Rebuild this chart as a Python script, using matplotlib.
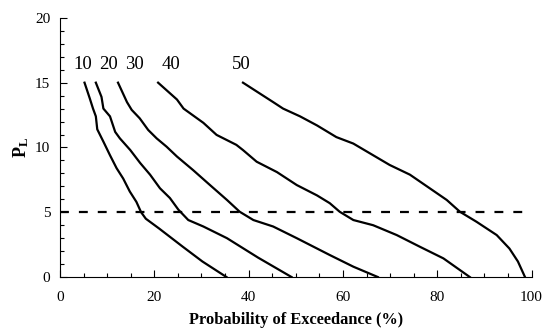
import matplotlib.pyplot as plt
from matplotlib.ticker import MultipleLocator

plt.rcParams['font.family'] = ['Liberation Serif', 'DejaVu Serif']
plt.rcParams['mathtext.fontset'] = 'custom'
plt.rcParams['mathtext.rm'] = 'Liberation Serif'
plt.rcParams['mathtext.bf'] = 'Liberation Serif:bold'

# P_L levels (y) shared layout per curve, x = probability of exceedance (%)
curve_labels = ['10', '20', '30', '40', '50']

x10 = [5.2, 6.3, 7.0, 7.6, 7.9, 9.2, 10.6, 12.0, 13.4, 14.8, 16.2, 17.2, 18.2, 21.0, 26.0, 30.2, 35.3]
y10 = [15.0, 13.8, 13.0, 12.4, 11.4, 10.45, 9.4, 8.4, 7.6, 6.6, 5.8, 5.0, 4.5, 3.75, 2.35, 1.2, 0.0]

x20 = [7.6, 8.8, 9.2, 10.6, 11.7, 12.7, 14.9, 17.0, 19.1, 21.2, 23.3, 25.1, 27.2, 30.4, 35.4, 42.0, 49.1]
y20 = [15.0, 13.9, 13.0, 12.4, 11.2, 10.7, 9.8, 8.8, 7.9, 6.85, 6.1, 5.2, 4.4, 3.9, 3.0, 1.5, 0.0]

x30 = [12.3, 14.2, 15.2, 16.9, 18.7, 20.5, 22.6, 24.8, 28.2, 31.8, 35.4, 38.1, 41.0, 45.2, 50.2, 57.2, 62.2, 67.4]
y30 = [15.0, 13.5, 12.9, 12.25, 11.35, 10.7, 10.06, 9.3, 8.26, 7.1, 5.95, 5.04, 4.4, 3.9, 3.0, 1.7, 0.8, 0.0]

x40 = [20.8, 24.8, 26.2, 30.4, 33.2, 37.4, 38.8, 41.7, 46.0, 50.2, 54.5, 57.2, 59.3, 62.2, 66.4, 71.4, 76.3, 81.3, 86.9]
y40 = [15.0, 13.7, 13.0, 11.9, 10.97, 10.2, 9.8, 8.9, 8.1, 7.1, 6.3, 5.7, 5.04, 4.4, 4.0, 3.24, 2.34, 1.44, 0.0]

x50 = [38.8, 45.2, 47.3, 50.9, 54.5, 58.6, 62.2, 65.7, 69.9, 74.2, 78.4, 82.0, 84.8, 88.3, 92.6, 95.3, 97.1, 98.6]
y50 = [15.0, 13.5, 13.0, 12.4, 11.7, 10.8, 10.3, 9.55, 8.65, 7.9, 6.85, 5.95, 5.04, 4.27, 3.24, 2.2, 1.2, 0.0]

label_x = [4.8, 10.2, 15.8, 23.6, 38.4]
label_y = 16.4
threshold = 5

fig = plt.figure(figsize=(5.43, 3.31), dpi=100)
ax = fig.add_axes([0.1105, 0.163, 0.8685, 0.783])

for xs, ys in [(x10, y10), (x20, y20), (x30, y30), (x40, y40), (x50, y50)]:
    ax.plot(xs, ys, color='black', lw=1.6)

ax.plot([0, 100], [threshold, threshold], color='black', lw=1.6, dashes=(4, 4.5))

for lab, lx in zip(curve_labels, label_x):
    ax.text(lx, label_y, lab, fontsize=13.5, ha='center', va='center')

ax.set_xlim(0, 100)
ax.set_ylim(0, 20)
ax.xaxis.set_major_locator(MultipleLocator(20))
ax.xaxis.set_minor_locator(MultipleLocator(5))
ax.yaxis.set_major_locator(MultipleLocator(5))
ax.yaxis.set_minor_locator(MultipleLocator(1))
ax.tick_params(which='both', direction='in', width=0.8, labelsize=11)
ax.tick_params(which='major', length=5)
ax.tick_params(which='minor', length=3)
ax.tick_params(axis='x', pad=10)
ax.tick_params(axis='y', pad=7)

ax.spines['top'].set_visible(False)
ax.spines['right'].set_visible(False)

ax.set_xlabel('Probability of Exceedance (%)', fontsize=11.8, fontweight='bold', labelpad=6)
ax.set_ylabel(r'$\mathbf{P_L}$', fontsize=13, labelpad=3)

fig.savefig('out.png', dpi=100)
